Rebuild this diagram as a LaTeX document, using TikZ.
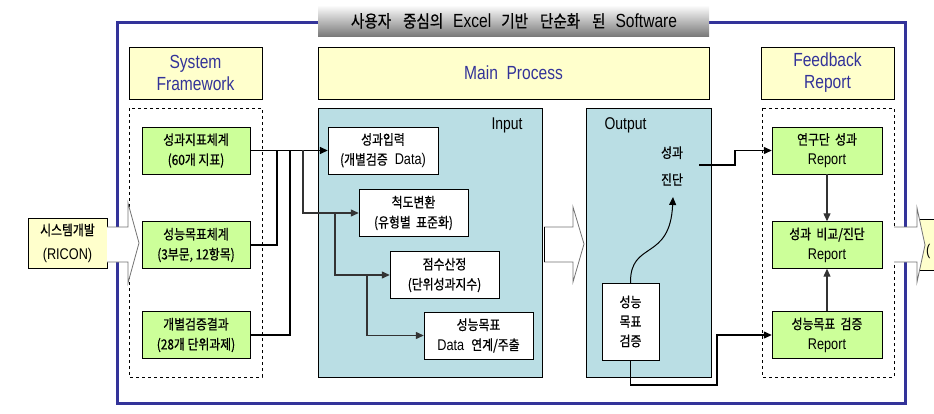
\documentclass[tikz,border=0pt]{standalone}
\usepackage{fontspec}
\setmainfont{Liberation Sans}[FakeStretch=0.82]
\newfontfamily\krfont{Noto Sans CJK KR}[FakeStretch=0.85,Scale=0.9,FakeBold=0.7]
\newcommand\kr[1]{{\krfont #1}}
\usetikzlibrary{arrows.meta,calc,positioning}
\definecolor{frameblue}{RGB}{51,51,153}
\definecolor{hdyellow}{RGB}{255,255,204}
\definecolor{boxgreen}{RGB}{204,255,153}
\definecolor{panelteal}{RGB}{186,222,228}
\definecolor{bannergray}{RGB}{118,118,118}

\begin{document}
\begin{tikzpicture}[x=1pt,y=-1pt,
  hdbox/.style={draw,fill=hdyellow,inner sep=0pt,align=center,text=frameblue,
    font=\fontsize{19}{22}\selectfont,minimum height=52pt},
  gbox/.style={draw,fill=boxgreen,inner sep=0pt,align=center,
    font=\fontsize{15.5}{20}\selectfont,minimum width=108pt,minimum height=47pt},
  wbox/.style={draw,fill=white,inner sep=0pt,align=center,
    font=\fontsize{15.5}{20}\selectfont,minimum width=109pt,minimum height=47pt},
  line/.style={draw=black,line width=1.2pt},
  dline/.style={draw=black!80,line width=1.2pt},
  tip/.style={-{Triangle[length=8pt,width=7pt]}},
  blockarrow/.style={draw=black!55,fill=white,line width=0.8pt}]
\useasboundingbox (0,0) rectangle (934,414);

% outer frame and title
\draw[frameblue,line width=3pt] (117,23) rectangle (905,403);
\shade[top color=white,bottom color=bannergray] (318,5) rectangle (709,37);
\node[font=\fontsize{19}{21}\selectfont] (title) at (514,21)
  {\kr{사용자\hspace{12pt}중심의}\hspace{10pt}Excel\hspace{10pt}\kr{기반\hspace{12pt}단순화\hspace{12pt}된}\hspace{10pt}Software};

% headers
\node[hdbox,minimum width=133pt] (sf) at (195.5,73) {System\\Framework};
\node[hdbox,minimum width=391pt] (mp) at (513.5,73) {Main~ Process};
\node[hdbox,minimum width=133pt] (fb) at (827.5,73) {Feedback\\Report};

% System Framework
\draw[dashed,line width=0.9pt] (129,108) rectangle (262,377);
\node[gbox] (g1) at (196,150.5) {\kr{성과지표체계}\\\kr{(60개 지표)}};
\node[gbox] (g2) at (196,245) {\kr{성능목표체계}\\\kr{(3부문, 12항목)}};
\node[gbox] (g3) at (196,335) {\kr{개별검증결과}\\\kr{(28개 단위과제)}};

\node[hdbox,font=\fontsize{15.5}{24}\selectfont,text=black,minimum width=79pt,
  minimum height=50pt] (ricon) at (67.5,243) {\kr{시스템개발}\\(RICON)};
\draw[blockarrow] (ricon.east |- 0,227) -- (128,227) -- (128,203) -- (139,243)
  -- (128,283) -- (128,262) -- (ricon.east |- 0,262);

% Input panel
\draw[fill=panelteal] (318,108) rectangle (542,377);
\node[font=\fontsize{17}{19}\selectfont] (inlbl) at (507,125) {Input};
\node[wbox,minimum width=110pt] (in1) at (383,150.5) {\kr{성과입력}\\\kr{(개별검증}~ Data)};
\node[wbox] (in2) at (413.5,213) {\kr{척도변환}\\\kr{(유형별~ 표준화)}};
\node[wbox] (in3) at (444.5,275) {\kr{점수산정}\\\kr{(단위성과지수)}};
\node[wbox] (in4) at (478.5,335.5) {\kr{성능목표}\\Data~ \kr{연계/주출}};

\coordinate (j2) at (277,150.5);
\coordinate (j3) at (290,150.5);
\coordinate (k1) at (303,150.5);
\coordinate (k2) at (335,213);
\coordinate (k3) at (367,275);
\draw[line,tip,line width=1.6pt] (g1.east) -- (in1.west);
\draw[line] (g2.east) -| (j2);
\draw[line] (g3.east) -| (j3);
\draw[dline,tip] (k1) |- (in2.west);
\draw[dline,tip] (k2) |- (in3.west);
\draw[dline,tip] (k3) |- (in4.west);

\draw[blockarrow] (544,227) -- (573,227) -- (573,207) -- (584,244)
  -- (573,282) -- (573,262) -- (544,262);
\draw[line width=0.9pt] (544,227) -- (544,262);

% Output panel
\draw[fill=panelteal] (586,108) rectangle (711,377);
\node[font=\fontsize{17}{19}\selectfont,anchor=west] (outlbl) at (601,125) {Output};
\node[font=\fontsize{15.5}{27}\selectfont,align=center,inner sep=1pt] (diag) at (672,166) {\kr{성과}\\\kr{진단}};
\node[wbox,font=\fontsize{15.5}{19.5}\selectfont,minimum width=57pt,minimum height=77pt]
  (chk) at (630.5,321.5) {\kr{성능}\\\kr{목표}\\\kr{검증}};
\coordinate (dtip) at (673,197);
\coordinate (dout) at (699,165);
\draw[line,line width=1pt,tip] (chk.north) .. controls (630,240) and (670,262) .. (dtip);

% Feedback Report
\draw[dashed,line width=0.9pt] (762,108) rectangle (894,377);
\node[gbox,minimum width=110pt] (r1) at (827,150.5) {\kr{연구단~ 성과}\\Report};
\node[gbox,minimum width=110pt] (r2) at (827,245) {\kr{성과~ 비교/진단}\\Report};
\node[gbox,minimum width=110pt] (r3) at (827,335) {\kr{성능목표~ 검증}\\Report};

\coordinate (m1) at (735,165);
\coordinate (m2) at (717,385);
\draw[line,tip] (dout) -- (m1) |- (r1.west);
\draw[line,tip] (chk.south) |- (m2) |- (r3.west);
\draw[dline,tip] (r1.south) -- (r2.north);
\draw[dline,tip] (r3.north) -- (r2.south);

% next step, cut off at the edge
\begin{scope}
\clip (0,0) rectangle (934,414);
\node[hdbox,minimum width=40pt,minimum height=51pt,anchor=north west] (next) at (919,219) {};
\node[font=\fontsize{15.5}{18}\selectfont,anchor=west,inner sep=0pt] (nextlbl) at (926,251) {(};
\end{scope}
\draw[blockarrow] (894,227) -- (917,227) -- (917,208) -- (925,245)
  -- (917,282) -- (917,262) -- (894,262);
\end{tikzpicture}
\end{document}
